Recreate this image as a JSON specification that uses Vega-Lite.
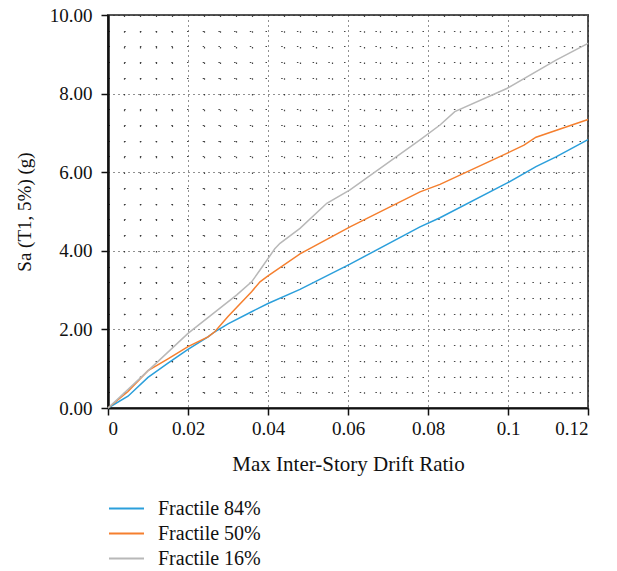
{
  "$schema": "https://vega.github.io/schema/vega-lite/v6.json",
  "width": 480,
  "height": 393,
  "autosize": {"type": "none"},
  "padding": {"left": 108, "top": 15, "right": 29, "bottom": 163},
  "background": "white",
  "config": {
    "font": "Liberation Serif",
    "view": {"stroke": "#555555", "strokeWidth": 2}
  },
  "data": {"values": [
    {"s": "Fractile 84%", "x": 0, "y": 0},
    {"s": "Fractile 84%", "x": 0.005, "y": 0.30},
    {"s": "Fractile 84%", "x": 0.01, "y": 0.78},
    {"s": "Fractile 84%", "x": 0.015, "y": 1.14},
    {"s": "Fractile 84%", "x": 0.02, "y": 1.49},
    {"s": "Fractile 84%", "x": 0.025, "y": 1.81},
    {"s": "Fractile 84%", "x": 0.0267, "y": 1.94},
    {"s": "Fractile 84%", "x": 0.03, "y": 2.14},
    {"s": "Fractile 84%", "x": 0.0359, "y": 2.45},
    {"s": "Fractile 84%", "x": 0.04, "y": 2.66},
    {"s": "Fractile 84%", "x": 0.048, "y": 3.02},
    {"s": "Fractile 84%", "x": 0.0605, "y": 3.66},
    {"s": "Fractile 84%", "x": 0.078, "y": 4.61},
    {"s": "Fractile 84%", "x": 0.083, "y": 4.84},
    {"s": "Fractile 84%", "x": 0.0997, "y": 5.72},
    {"s": "Fractile 84%", "x": 0.107, "y": 6.14},
    {"s": "Fractile 84%", "x": 0.112, "y": 6.39},
    {"s": "Fractile 84%", "x": 0.12, "y": 6.83},
    {"s": "Fractile 50%", "x": 0, "y": 0},
    {"s": "Fractile 50%", "x": 0.005, "y": 0.42},
    {"s": "Fractile 50%", "x": 0.01, "y": 0.95},
    {"s": "Fractile 50%", "x": 0.015, "y": 1.25},
    {"s": "Fractile 50%", "x": 0.02, "y": 1.56},
    {"s": "Fractile 50%", "x": 0.025, "y": 1.81},
    {"s": "Fractile 50%", "x": 0.0267, "y": 1.94},
    {"s": "Fractile 50%", "x": 0.03, "y": 2.33},
    {"s": "Fractile 50%", "x": 0.0359, "y": 2.96},
    {"s": "Fractile 50%", "x": 0.038, "y": 3.21},
    {"s": "Fractile 50%", "x": 0.04, "y": 3.36},
    {"s": "Fractile 50%", "x": 0.048, "y": 3.92},
    {"s": "Fractile 50%", "x": 0.0605, "y": 4.61},
    {"s": "Fractile 50%", "x": 0.078, "y": 5.50},
    {"s": "Fractile 50%", "x": 0.083, "y": 5.69},
    {"s": "Fractile 50%", "x": 0.0997, "y": 6.48},
    {"s": "Fractile 50%", "x": 0.104, "y": 6.69},
    {"s": "Fractile 50%", "x": 0.107, "y": 6.89},
    {"s": "Fractile 50%", "x": 0.12, "y": 7.34},
    {"s": "Fractile 16%", "x": 0, "y": 0},
    {"s": "Fractile 16%", "x": 0.0053, "y": 0.50},
    {"s": "Fractile 16%", "x": 0.02, "y": 1.90},
    {"s": "Fractile 16%", "x": 0.0322, "y": 2.88},
    {"s": "Fractile 16%", "x": 0.0359, "y": 3.21},
    {"s": "Fractile 16%", "x": 0.038, "y": 3.51},
    {"s": "Fractile 16%", "x": 0.0417, "y": 4.05},
    {"s": "Fractile 16%", "x": 0.043, "y": 4.19},
    {"s": "Fractile 16%", "x": 0.048, "y": 4.57},
    {"s": "Fractile 16%", "x": 0.0547, "y": 5.21},
    {"s": "Fractile 16%", "x": 0.0605, "y": 5.55},
    {"s": "Fractile 16%", "x": 0.078, "y": 6.82},
    {"s": "Fractile 16%", "x": 0.083, "y": 7.20},
    {"s": "Fractile 16%", "x": 0.0867, "y": 7.54},
    {"s": "Fractile 16%", "x": 0.0997, "y": 8.13},
    {"s": "Fractile 16%", "x": 0.112, "y": 8.85},
    {"s": "Fractile 16%", "x": 0.12, "y": 9.28}
  ]},
  "resolve": {"axis": {"x": "independent", "y": "independent"}},
  "layer": [
    {
      "mark": {"type": "line", "opacity": 0},
      "encoding": {
        "x": {"field": "x", "type": "quantitative", "scale": {"domain": [0, 0.12], "nice": false, "zero": false},
          "axis": {"orient": "bottom", "values": [0.004,0.008,0.012,0.016,0.024,0.028,0.032,0.036,0.044,0.048,0.052,0.056,0.064,0.068,0.072,0.076,0.084,0.088,0.092,0.096,0.104,0.108,0.112,0.116],
            "grid": true, "gridColor": "#333", "gridDash": [1.5, 14.2], "gridWidth": 1.2, "gridOpacity": 0.9,
            "labels": false, "ticks": false, "domain": false, "title": null}},
        "y": {"field": "y", "type": "quantitative", "scale": {"domain": [0, 10], "nice": false},
          "axis": {"orient": "left", "values": [0.4,0.8,1.2,1.6,2.4,2.8,3.2,3.6,4.4,4.8,5.2,5.6,6.4,6.8,7.2,7.6,8.4,8.8,9.2,9.6],
            "grid": true, "gridColor": "#333", "gridDash": [1.5, 14.2], "gridWidth": 1.2, "gridOpacity": 0.9,
            "labels": false, "ticks": false, "domain": false, "title": null}},
        "detail": {"field": "s"}
      }
    },
    {
      "mark": {"type": "line", "strokeWidth": 1.5},
      "encoding": {
        "x": {"field": "x", "type": "quantitative", "scale": {"domain": [0, 0.12], "nice": false, "zero": false},
          "axis": {"orient": "bottom", "values": [0, 0.02, 0.04, 0.06, 0.08, 0.1, 0.12], "format": ".2~f",
            "grid": true, "gridColor": "#222", "gridDash": [1, 4], "gridWidth": 1,
            "domainColor": "#111", "domainWidth": 2, "tickColor": "#111", "tickWidth": 1.5, "tickSize": 7,
            "labelFontSize": 19, "labelColor": "#111", "labelPadding": 4, "labelFont": "Liberation Serif",
            "title": "Max Inter-Story Drift Ratio", "titleFontSize": 21, "titleFontWeight": "normal", "titleColor": "#111",
            "titleFont": "Liberation Serif", "titlePadding": 15}},
        "y": {"field": "y", "type": "quantitative", "scale": {"domain": [0, 10], "nice": false},
          "axis": {"orient": "left", "values": [0, 2, 4, 6, 8, 10], "format": ".2f",
            "grid": true, "gridColor": "#222", "gridDash": [1, 4], "gridWidth": 1,
            "domainColor": "#111", "domainWidth": 2.5, "tickColor": "#111", "tickWidth": 1.5, "tickSize": 7,
            "labelFontSize": 19, "labelColor": "#111", "labelPadding": 9, "labelFont": "Liberation Serif",
            "title": "Sa (T1, 5%) (g)", "titleFontSize": 19, "titleFontWeight": "normal", "titleColor": "#111",
            "titleFont": "Liberation Serif", "titlePadding": 15}},
        "color": {"field": "s", "type": "nominal",
          "scale": {"domain": ["Fractile 84%", "Fractile 50%", "Fractile 16%"], "range": ["#2b9fdb", "#f57f2e", "#b8b8b8"]},
          "legend": {"orient": "none", "legendX": 0, "legendY": 481, "title": null,
            "symbolType": "stroke", "symbolSize": 1225, "symbolStrokeWidth": 2, "clipHeight": 25,
            "labelFontSize": 20, "labelFont": "Liberation Serif", "labelColor": "#111", "labelOffset": 13,
            "rowPadding": 0, "padding": 0}}
      }
    }
  ]
}
